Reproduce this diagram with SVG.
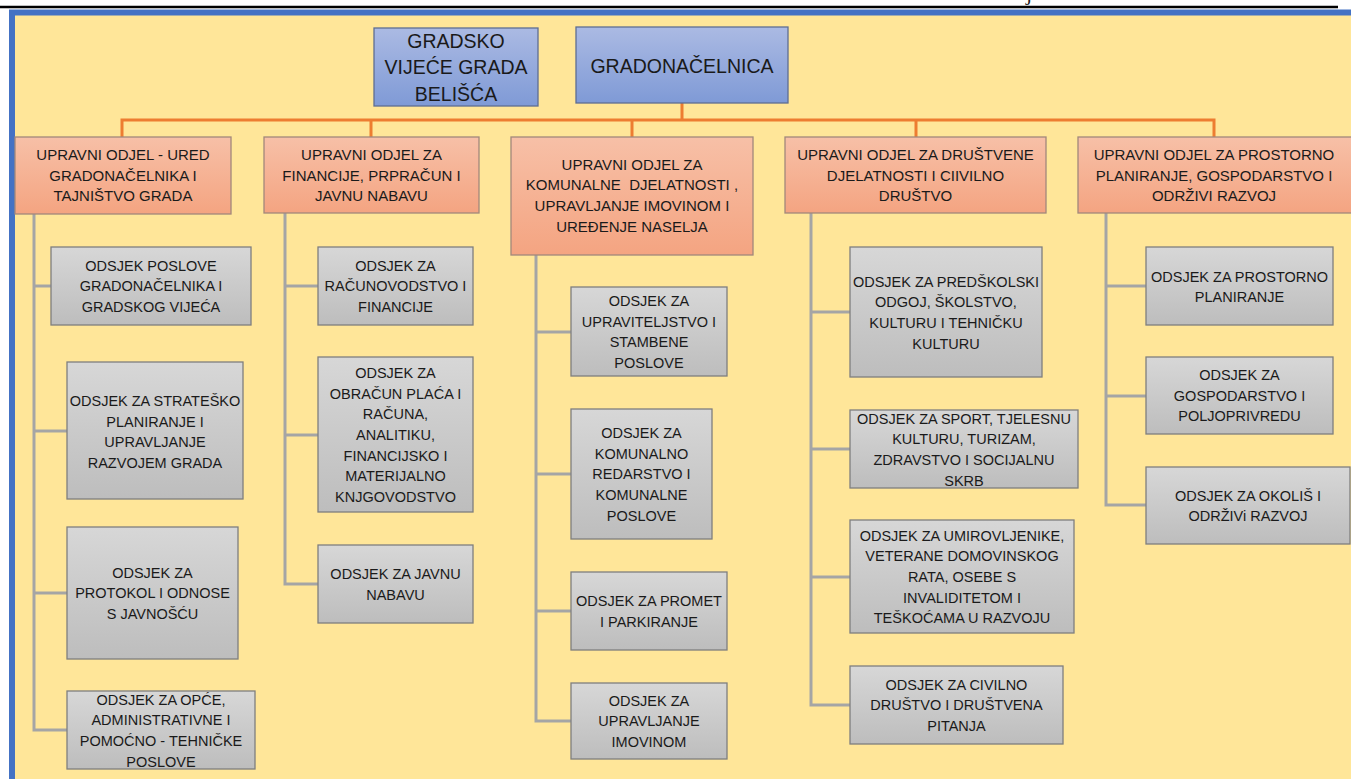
<svg xmlns="http://www.w3.org/2000/svg" width="1351" height="779" viewBox="0 0 1351 779">
<defs>
<linearGradient id="gBlue" x1="0" y1="0" x2="0" y2="1"><stop offset="0" stop-color="#ABBAE3"/><stop offset="1" stop-color="#7F9AD6"/></linearGradient>
<linearGradient id="gOrange" x1="0" y1="0" x2="0" y2="1"><stop offset="0" stop-color="#F7C0A7"/><stop offset="1" stop-color="#F4A481"/></linearGradient>
<linearGradient id="gGray" x1="0" y1="0" x2="0" y2="1"><stop offset="0" stop-color="#D7D7D7"/><stop offset="1" stop-color="#BDBDBD"/></linearGradient>
</defs>
<style>
text{font-family:"Liberation Sans",Arial,sans-serif;fill:#1a1a1a;text-anchor:middle;white-space:pre}
.top{fill:url(#gBlue);stroke:#5E6E92;stroke-width:1.3}
.dep{fill:url(#gOrange);stroke:#A2887B;stroke-width:1.3}
.sub{fill:url(#gGray);stroke:#7F7F7F;stroke-width:1.3}
.tt{font-size:19.5px}
.td{font-size:15px}
.ts{font-size:14.5px}
.oc{stroke:#ED7D31;stroke-width:3;fill:none}
.gc{stroke:#A5A5A5;stroke-width:3;fill:none}
</style>
<rect x="0" y="0" width="1351" height="779" fill="#FFFFFF"/>
<line x1="0" y1="7" x2="1338" y2="7" stroke="#000" stroke-width="2.5"/>
<text x="1026" y="0" style="font-family:'Liberation Serif',serif;font-size:22px;text-anchor:start">j</text>
<rect x="12" y="12.5" width="1345" height="775" fill="#FFE699" stroke="#4472C4" stroke-width="6"/>

<g id="connectors">
<path class="oc" d="M682 103V120M122 137V120H1214V137M371 120V137M632 120V137M916 120V137"/>
<path class="gc" d="M34 214V730H67M34 286H51M34 431H67M34 593H67"/>
<path class="gc" d="M285 213V584H318M285 286H318M285 435H318"/>
<path class="gc" d="M536 255V721H571M536 332H571M536 474H571M536 611H571"/>
<path class="gc" d="M811 213V705H850M811 312H850M811 449H850M811 577H850"/>
<path class="gc" d="M1106 213V505H1146M1106 286H1146M1106 396H1146"/>
</g>

<g id="gradsko-vijece">
<rect class="top" x="374" y="28" width="164" height="78"/>
<text class="tt" x="456" y="48">GRADSKO<tspan x="456" y="74">VIJEĆE GRADA</tspan><tspan x="456" y="100.5">BELIŠĆA</tspan></text>
</g>
<g id="gradonacelnica">
<rect class="top" x="576" y="27" width="212" height="76"/>
<text class="tt" x="682" y="72.5">GRADONAČELNICA</text>
</g>

<g id="odjel-ured">
<rect class="dep" x="15" y="137" width="216" height="77"/>
<text class="td" x="123" y="160">UPRAVNI ODJEL - URED<tspan x="123" dy="20.7">GRADONAČELNIKA I</tspan><tspan x="123" dy="20.7">TAJNIŠTVO GRADA</tspan></text>
</g>
<g id="odjel-financije">
<rect class="dep" x="264" y="137" width="215" height="76"/>
<text class="td" x="371.5" y="160">UPRAVNI ODJEL ZA<tspan x="371.5" dy="20.7">FINANCIJE, PRPRAČUN I</tspan><tspan x="371.5" dy="20.7">JAVNU NABAVU</tspan></text>
</g>
<g id="odjel-komunalne">
<rect class="dep" x="511" y="137" width="242" height="118"/>
<text class="td" x="632" y="169.5">UPRAVNI ODJEL ZA<tspan x="632" dy="20.7">KOMUNALNE  DJELATNOSTI ,</tspan><tspan x="632" dy="20.7">UPRAVLJANJE IMOVINOM I</tspan><tspan x="632" dy="20.7">UREĐENJE NASELJA</tspan></text>
</g>
<g id="odjel-drustvene">
<rect class="dep" x="785" y="137" width="261" height="76"/>
<text class="td" x="915.5" y="160">UPRAVNI ODJEL ZA DRUŠTVENE<tspan x="915.5" dy="20.7">DJELATNOSTI I CIIVILNO</tspan><tspan x="915.5" dy="20.7">DRUŠTVO</tspan></text>
</g>
<g id="odjel-prostorno">
<rect class="dep" x="1078" y="137" width="280" height="76"/>
<text class="td" x="1214" y="160">UPRAVNI ODJEL ZA PROSTORNO<tspan x="1214" dy="20.7">PLANIRANJE, GOSPODARSTVO I</tspan><tspan x="1214" dy="20.7">ODRŽIVI RAZVOJ</tspan></text>
</g>

<g id="s11">
<rect class="sub" x="51" y="247" width="200" height="78"/>
<text class="ts" x="151" y="270.5">ODSJEK POSLOVE<tspan x="151" dy="20.7">GRADONAČELNIKA I</tspan><tspan x="151" dy="20.7">GRADSKOG VIJEĆA</tspan></text>
</g>
<g id="s12">
<rect class="sub" x="67" y="362" width="176" height="137"/>
<text class="ts" x="155" y="406">ODSJEK ZA STRATEŠKO<tspan x="155" dy="20.7">PLANIRANJE I</tspan><tspan x="155" dy="20.7">UPRAVLJANJE</tspan><tspan x="155" dy="20.7">RAZVOJEM GRADA</tspan></text>
</g>
<g id="s13">
<rect class="sub" x="67" y="527" width="171" height="132"/>
<text class="ts" x="152.5" y="577.5">ODSJEK ZA<tspan x="152.5" dy="20.7">PROTOKOL I ODNOSE</tspan><tspan x="152.5" dy="20.7">S JAVNOŠĆU</tspan></text>
</g>
<g id="s14">
<rect class="sub" x="67" y="691" width="188" height="78"/>
<text class="ts" x="161" y="704.5">ODSJEK ZA OPĆE,<tspan x="161" dy="20.7">ADMINISTRATIVNE I</tspan><tspan x="161" dy="20.7">POMOĆNO - TEHNIČKE</tspan><tspan x="161" dy="20.7">POSLOVE</tspan></text>
</g>

<g id="s21">
<rect class="sub" x="318" y="247" width="155" height="78"/>
<text class="ts" x="395.5" y="270.5">ODSJEK ZA<tspan x="395.5" dy="20.7">RAČUNOVODSTVO I</tspan><tspan x="395.5" dy="20.7">FINANCIJE</tspan></text>
</g>
<g id="s22">
<rect class="sub" x="318" y="357" width="155" height="155"/>
<text class="ts" x="395.5" y="377.8">ODSJEK ZA<tspan x="395.5" dy="20.7">OBRAČUN PLAĆA I</tspan><tspan x="395.5" dy="20.7">RAČUNA,</tspan><tspan x="395.5" dy="20.7">ANALITIKU,</tspan><tspan x="395.5" dy="20.7">FINANCIJSKO I</tspan><tspan x="395.5" dy="20.7">MATERIJALNO</tspan><tspan x="395.5" dy="20.7">KNJGOVODSTVO</tspan></text>
</g>
<g id="s23">
<rect class="sub" x="318" y="545" width="155" height="78"/>
<text class="ts" x="395.5" y="579">ODSJEK ZA JAVNU<tspan x="395.5" dy="20.7">NABAVU</tspan></text>
</g>

<g id="s31">
<rect class="sub" x="571" y="287" width="156" height="89"/>
<text class="ts" x="649" y="306">ODSJEK ZA<tspan x="649" dy="20.7">UPRAVITELJSTVO I</tspan><tspan x="649" dy="20.7">STAMBENE</tspan><tspan x="649" dy="20.7">POSLOVE</tspan></text>
</g>
<g id="s32">
<rect class="sub" x="571" y="409" width="141" height="130"/>
<text class="ts" x="641.5" y="438">ODSJEK ZA<tspan x="641.5" dy="20.7">KOMUNALNO</tspan><tspan x="641.5" dy="20.7">REDARSTVO I</tspan><tspan x="641.5" dy="20.7">KOMUNALNE</tspan><tspan x="641.5" dy="20.7">POSLOVE</tspan></text>
</g>
<g id="s33">
<rect class="sub" x="571" y="572" width="156" height="78"/>
<text class="ts" x="649" y="606">ODSJEK ZA PROMET<tspan x="649" dy="20.7">I PARKIRANJE</tspan></text>
</g>
<g id="s34">
<rect class="sub" x="571" y="683" width="156" height="76"/>
<text class="ts" x="649" y="705.5">ODSJEK ZA<tspan x="649" dy="20.7">UPRAVLJANJE</tspan><tspan x="649" dy="20.7">IMOVINOM</tspan></text>
</g>

<g id="s41">
<rect class="sub" x="850" y="247" width="192" height="130"/>
<text class="ts" x="946" y="286.5">ODSJEK ZA PREDŠKOLSKI<tspan x="946" dy="20.7">ODGOJ, ŠKOLSTVO,</tspan><tspan x="946" dy="20.7">KULTURU I TEHNIČKU</tspan><tspan x="946" dy="20.7">KULTURU</tspan></text>
</g>
<g id="s42">
<rect class="sub" x="850" y="410" width="228" height="78"/>
<text class="ts" x="964" y="423.5">ODSJEK ZA SPORT, TJELESNU<tspan x="964" dy="20.7">KULTURU, TURIZAM,</tspan><tspan x="964" dy="20.7">ZDRAVSTVO I SOCIJALNU</tspan><tspan x="964" dy="20.7">SKRB</tspan></text>
</g>
<g id="s43">
<rect class="sub" x="850" y="520" width="224" height="113"/>
<text class="ts" x="962" y="540.5">ODSJEK ZA UMIROVLJENIKE,<tspan x="962" dy="20.7">VETERANE DOMOVINSKOG</tspan><tspan x="962" dy="20.7">RATA, OSEBE S</tspan><tspan x="962" dy="20.7">INVALIDITETOM I</tspan><tspan x="962" dy="20.7">TEŠKOĆAMA U RAZVOJU</tspan></text>
</g>
<g id="s44">
<rect class="sub" x="850" y="666" width="213" height="78"/>
<text class="ts" x="956.5" y="689.5">ODSJEK ZA CIVILNO<tspan x="956.5" dy="20.7">DRUŠTVO I DRUŠTVENA</tspan><tspan x="956.5" dy="20.7">PITANJA</tspan></text>
</g>

<g id="s51">
<rect class="sub" x="1146" y="247" width="187" height="78"/>
<text class="ts" x="1239.5" y="281.5">ODSJEK ZA PROSTORNO<tspan x="1239.5" dy="20.7">PLANIRANJE</tspan></text>
</g>
<g id="s52">
<rect class="sub" x="1146" y="357" width="187" height="77"/>
<text class="ts" x="1239.5" y="380">ODSJEK ZA<tspan x="1239.5" dy="20.7">GOSPODARSTVO I</tspan><tspan x="1239.5" dy="20.7">POLJOPRIVREDU</tspan></text>
</g>
<g id="s53">
<rect class="sub" x="1146" y="467" width="204" height="77"/>
<text class="ts" x="1248" y="500.7">ODSJEK ZA OKOLIŠ I<tspan x="1248" dy="20.7">ODRŽIVi RAZVOJ</tspan></text>
</g>
</svg>
